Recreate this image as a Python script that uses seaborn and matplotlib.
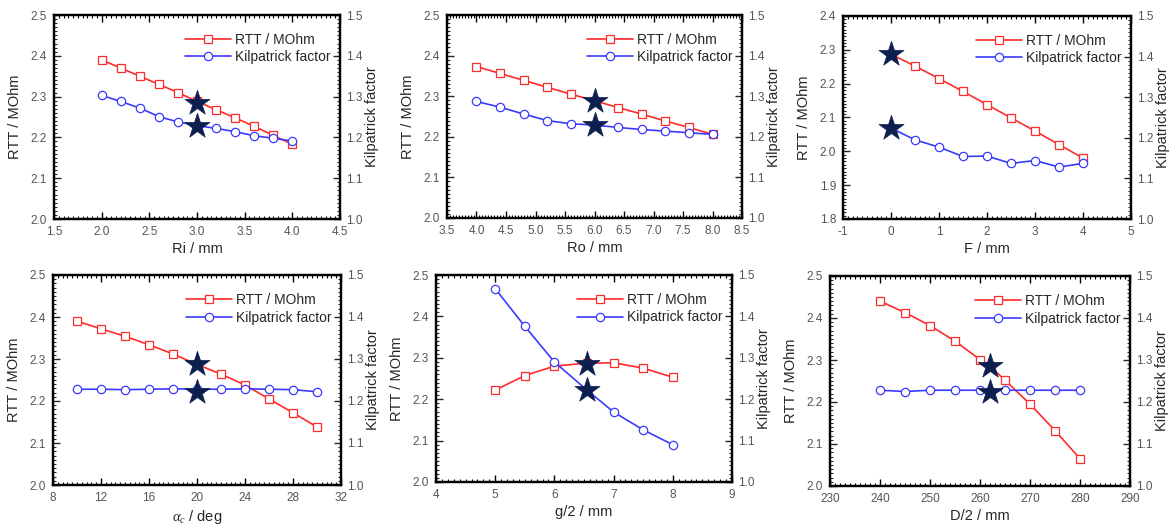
import numpy as np
import pandas as pd
import matplotlib
matplotlib.use("Agg")
import matplotlib.pyplot as plt
from matplotlib.ticker import MultipleLocator, AutoMinorLocator, FormatStrFormatter
import seaborn as sns

sns.set_theme(style="white")
plt.rcParams['font.family'] = ['Liberation Sans', 'DejaVu Sans']
plt.rcParams['mathtext.fontset'] = 'custom'
plt.rcParams['mathtext.rm'] = 'Liberation Serif'
plt.rcParams['mathtext.it'] = 'Liberation Serif:italic'

# ---------------- data ----------------
ri_x = [2.0, 2.2, 2.4, 2.6, 2.8, 3.0, 3.2, 3.4, 3.6, 3.8, 4.0]
ri_rtt = [2.390, 2.370, 2.350, 2.330, 2.310, 2.288, 2.268, 2.248, 2.227, 2.205, 2.183]
ri_kf = [1.303, 1.288, 1.272, 1.251, 1.238, 1.229, 1.222, 1.214, 1.204, 1.198, 1.191]

ro_x = [4.0, 4.4, 4.8, 5.2, 5.6, 6.0, 6.4, 6.8, 7.2, 7.6, 8.0]
ro_rtt = [2.373, 2.356, 2.339, 2.322, 2.305, 2.289, 2.272, 2.256, 2.239, 2.223, 2.206]
ro_kf = [1.287, 1.273, 1.256, 1.240, 1.232, 1.229, 1.223, 1.218, 1.214, 1.210, 1.206]

f_x = [0.0, 0.5, 1.0, 1.5, 2.0, 2.5, 3.0, 3.5, 4.0]
f_rtt = [2.287, 2.252, 2.215, 2.177, 2.138, 2.099, 2.060, 2.020, 1.980]
f_kf = [1.224, 1.195, 1.177, 1.154, 1.155, 1.137, 1.144, 1.128, 1.137]

a_x = [10, 12, 14, 16, 18, 20, 22, 24, 26, 28, 30]
a_rtt = [2.390, 2.372, 2.354, 2.334, 2.312, 2.287, 2.264, 2.238, 2.205, 2.172, 2.138]
a_kf = [1.228, 1.228, 1.227, 1.228, 1.229, 1.228, 1.228, 1.229, 1.228, 1.227, 1.222]

g_x = [5.0, 5.5, 6.0, 6.55, 7.0, 7.5, 8.0]
g_rtt = [2.222, 2.257, 2.280, 2.287, 2.288, 2.275, 2.253]
g_kf = [1.467, 1.376, 1.290, 1.222, 1.169, 1.126, 1.090]

d_x = [240, 245, 250, 255, 260, 262, 265, 270, 275, 280]
d_rtt = [2.440, 2.413, 2.382, 2.345, 2.301, 2.285, 2.252, 2.195, 2.132, 2.065]
d_kf = [1.228, 1.225, 1.228, 1.228, 1.228, 1.227, 1.228, 1.228, 1.228, 1.228]

# design points (stars)
star_x = [3.0, 6.0, 0.0, 20.0, 6.55, 262.0]
star_rtt = [2.285, 2.287, 2.287, 2.287, 2.285, 2.285]
star_kf = [1.228, 1.228, 1.224, 1.222, 1.222, 1.224]

xlabels = ["Ri / mm", "Ro / mm", "F / mm", r"$\alpha_{c}$ / deg", "g/2 / mm", "D/2 / mm"]
xlims = [(1.5, 4.5), (3.5, 8.5), (-1, 5), (8, 32), (4, 9), (230, 290)]
xmajor = [0.5, 0.5, 1, 4, 1, 10]
xfmt = ["%.1f", "%.1f", "%g", "%g", "%g", "%g"]
ylims_left = [(2.0, 2.5), (2.0, 2.5), (1.8, 2.4), (2.0, 2.5), (2.0, 2.5), (2.0, 2.5)]
ylim_right = (1.0, 1.5)

panels = [
    (ri_x, ri_rtt, ri_kf),
    (ro_x, ro_rtt, ro_kf),
    (f_x, f_rtt, f_kf),
    (a_x, a_rtt, a_kf),
    (g_x, g_rtt, g_kf),
    (d_x, d_rtt, d_kf),
]

# axes boxes in pixels: left, right, top, bottom
boxes = [
    (54, 340, 15, 219),
    (447, 742, 15, 218),
    (843, 1131, 16, 219),
    (53, 341, 275, 485),
    (436, 732, 275, 482),
    (830, 1130, 276, 486),
]

W, H = 1170, 527
fig = plt.figure(figsize=(W / 100, H / 100), dpi=100)
fig.patch.set_facecolor("white")

RED = "#ff2a2a"
BLUE = "#3a3aff"
NAVY = "#0c1f4f"
TICKC = "#555555"

for i, ((xs, rtt, kf), (l, r, t, b)) in enumerate(zip(panels, boxes)):
    ax = fig.add_axes([l / W, (H - b) / H, (r - l) / W, (b - t) / H])
    ax2 = ax.twinx()
    df = pd.DataFrame({"x": xs, "rtt": rtt, "kf": kf})

    sns.lineplot(data=df, x="x", y="rtt", ax=ax, color=RED, lw=1.2,
                 marker="s", markersize=5.5, markerfacecolor="white",
                 markeredgecolor=RED, markeredgewidth=0.9, label="RTT / MOhm",
                 legend=False)
    sns.lineplot(data=df, x="x", y="kf", ax=ax2, color=BLUE, lw=1.2,
                 marker="o", markersize=6, markerfacecolor="white",
                 markeredgecolor=BLUE, markeredgewidth=0.9, label="Kilpatrick factor",
                 legend=False)

    sdf = pd.DataFrame({"x": [star_x[i]], "rtt": [star_rtt[i]], "kf": [star_kf[i]]})
    sns.scatterplot(data=sdf, x="x", y="rtt", ax=ax, marker="*", s=360,
                    color=NAVY, edgecolor=NAVY, linewidth=0.5, zorder=5, legend=False)
    sns.scatterplot(data=sdf, x="x", y="kf", ax=ax2, marker="*", s=360,
                    color=NAVY, edgecolor=NAVY, linewidth=0.5, zorder=5, legend=False)

    ax.set_xlim(*xlims[i])
    ax.set_ylim(*ylims_left[i])
    ax2.set_ylim(*ylim_right)
    ax.xaxis.set_major_locator(MultipleLocator(xmajor[i]))
    ax.xaxis.set_minor_locator(AutoMinorLocator(10))
    ax.yaxis.set_major_locator(MultipleLocator(0.1))
    ax.yaxis.set_minor_locator(AutoMinorLocator(10))
    ax2.yaxis.set_major_locator(MultipleLocator(0.1))
    ax2.yaxis.set_minor_locator(AutoMinorLocator(10))
    ax.xaxis.set_major_formatter(FormatStrFormatter(xfmt[i]))
    ax.yaxis.set_major_formatter(FormatStrFormatter("%.1f"))
    ax2.yaxis.set_major_formatter(FormatStrFormatter("%.1f"))

    ax.tick_params(axis="x", which="both", direction="in", top=True, bottom=True,
                   labelsize=8.5, colors="black", labelcolor=TICKC, pad=5)
    ax.tick_params(axis="x", which="major", length=5, width=1)
    ax.tick_params(axis="x", which="minor", length=2.5, width=0.8)
    ax.tick_params(axis="y", which="both", direction="in", left=True, right=False,
                   labelsize=8.5, labelcolor=TICKC, pad=5)
    ax.tick_params(axis="y", which="major", length=5, width=1)
    ax.tick_params(axis="y", which="minor", length=2.5, width=0.8)
    ax2.tick_params(axis="y", which="both", direction="in", right=True, left=False,
                    labelsize=8.5, labelcolor=TICKC, pad=4)
    ax2.tick_params(axis="y", which="major", length=5, width=1)
    ax2.tick_params(axis="y", which="minor", length=2.5, width=0.8)

    for a in (ax, ax2):
        for s in a.spines.values():
            s.set_color("black")
            s.set_linewidth(1.6)

    ax.set_xlabel(xlabels[i], fontsize=10.5, labelpad=3)
    ax.set_ylabel("RTT / MOhm", fontsize=10.5, labelpad=6)
    ax2.set_ylabel("Kilpatrick factor", fontsize=10.5, labelpad=2)

    h1, l1 = ax.get_legend_handles_labels()
    h2, l2 = ax2.get_legend_handles_labels()
    ax2.legend(h1 + h2, l1 + l2, loc="upper right", frameon=False,
               fontsize=10, handlelength=3.3, handletextpad=0.25,
               borderaxespad=0.3, labelspacing=0.25,
               bbox_to_anchor=(1.0, 0.96))
    ax2.set_zorder(ax.get_zorder() + 1)
    ax2.patch.set_visible(False)

fig.savefig("out.png", dpi=100, facecolor="white")
